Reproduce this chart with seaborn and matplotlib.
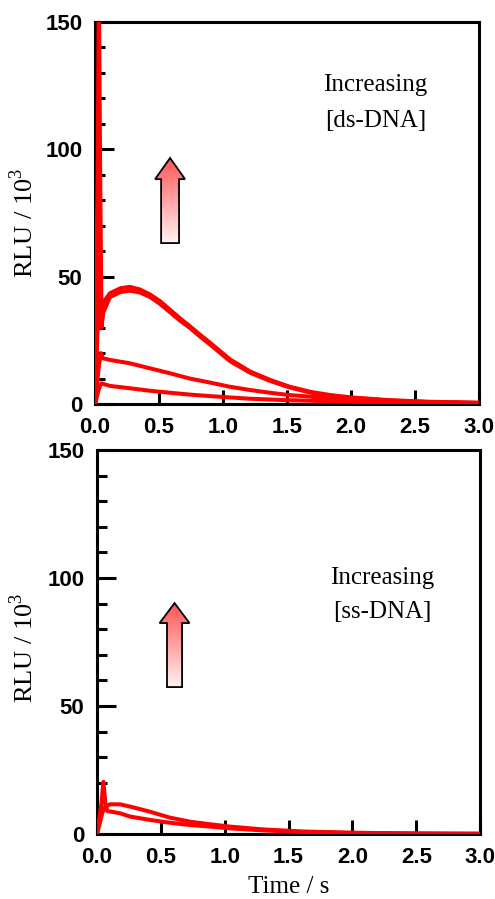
import matplotlib
matplotlib.use("Agg")
import matplotlib.pyplot as plt
import numpy as np
import seaborn as sns
from matplotlib.patches import Polygon
from matplotlib.ticker import MultipleLocator, FormatStrFormatter

# Dados (tempo em s, RLU / 10^3)
# painel superior: ds-DNA
t_ds_a = [0, 0.02, 0.03, 0.04, 0.05, 0.065, 0.117, 0.2, 0.273, 0.35, 0.43, 0.51, 0.586, 0.66,
          0.742, 0.82, 0.9, 1.055, 1.21, 1.37, 1.52, 1.68, 1.84, 2.0, 2.3, 2.6, 3.0]
y_ds_a = [0, 90, 165, 90, 36, 40, 43.5, 45.5, 46, 45, 43, 40.3, 37, 33.8,
          30.5, 27.2, 24, 17.5, 12.8, 9.4, 6.8, 4.8, 3.5, 2.6, 1.5, 0.9, 0.5]
t_ds_b = [0, 0.02, 0.035, 0.05, 0.065, 0.117, 0.2, 0.273, 0.35, 0.43, 0.51, 0.586, 0.66, 0.742,
          0.82, 0.9, 1.055, 1.21, 1.37, 1.52, 1.68, 1.84, 2.0, 2.3, 2.6, 3.0]
y_ds_b = [0, 30, 58, 30, 36, 42, 44, 44.5, 43.8, 42, 39.2, 36, 32.9, 29.8,
          26.5, 23.3, 16.8, 12.3, 9, 6.5, 4.5, 3.2, 2.4, 1.4, 0.8, 0.4]
t_ds_c = [0, 0.03, 0.045, 0.06, 0.117, 0.27, 0.43, 0.59, 0.74, 0.9, 1.05, 1.21, 1.37, 1.52,
          1.68, 1.84, 2.0, 2.5, 3.0]
y_ds_c = [0, 15, 20, 18, 17.3, 16, 14, 12, 10, 8.4, 6.8, 5.5, 4.4, 3.5,
          2.9, 2.2, 1.7, 0.8, 0.4]
t_ds_d = [0, 0.03, 0.05, 0.117, 0.27, 0.43, 0.59, 0.74, 0.9, 1.05, 1.2, 1.5, 2.0, 2.5, 3.0]
y_ds_d = [0, 6, 8.1, 7.1, 6.2, 5.2, 4.4, 3.7, 3.1, 2.6, 2.1, 1.5, 0.9, 0.5, 0.3]

# painel inferior: ss-DNA
t_ss_a = [0, 0.04, 0.06, 0.10, 0.18, 0.26, 0.415, 0.57, 0.73, 0.885, 1.04, 1.3, 1.6, 2.0, 2.5, 3.0]
y_ss_a = [0, 8, 10.5, 11.6, 11.6, 10.7, 8.7, 6.4, 4.8, 3.8, 2.9, 1.8, 1.0, 0.5, 0.2, 0.1]
t_ss_b = [0, 0.035, 0.05, 0.065, 0.08, 0.18, 0.26, 0.415, 0.57, 0.73, 0.885, 1.04, 1.3, 1.6,
          2.0, 2.5, 3.0]
y_ss_b = [0, 12, 20.4, 12, 9, 8.1, 6.8, 5.5, 4.4, 3.5, 2.9, 2.2, 1.4, 0.8, 0.4, 0.2, 0.1]

curvas_ds = [(t_ds_a, y_ds_a), (t_ds_b, y_ds_b), (t_ds_c, y_ds_c), (t_ds_d, y_ds_d)]
curvas_ss = [(t_ss_a, y_ss_a), (t_ss_b, y_ss_b)]

sns.set_style("ticks")
plt.rcParams['font.family'] = ['Liberation Sans', 'DejaVu Sans']
plt.rcParams['text.color'] = 'black'
plt.rcParams['axes.labelcolor'] = 'black'
plt.rcParams['xtick.color'] = 'black'
plt.rcParams['ytick.color'] = 'black'

fig = plt.figure(figsize=(4.95, 8.99), dpi=100)
ax1 = fig.add_axes([0.192, 0.5506, 0.776, 0.4249])
ax2 = fig.add_axes([0.196, 0.0723, 0.774, 0.4271])


def seta(ax, xc, y_base, y_cab, y_topo, meia_cab, meia_haste):
    # seta com gradiente vermelho -> branco
    pts = [(xc - meia_haste, y_base), (xc - meia_haste, y_cab), (xc - meia_cab, y_cab),
           (xc, y_topo), (xc + meia_cab, y_cab), (xc + meia_haste, y_cab),
           (xc + meia_haste, y_base)]
    poly = Polygon(pts, closed=True, facecolor='none', edgecolor='black', lw=1.3, zorder=5)
    ax.add_patch(poly)
    grad = np.linspace(0, 1, 256).reshape(-1, 1)
    cores = np.zeros((256, 1, 3))
    cores[..., 0] = 1.0
    cores[..., 1] = 0.95 - 0.62 * grad
    cores[..., 2] = 0.95 - 0.62 * grad
    im = ax.imshow(cores, extent=[xc - meia_cab, xc + meia_cab, y_base, y_topo],
                   origin='lower', aspect='auto', zorder=4)
    im.set_clip_path(poly)


def formata(ax, curvas):
    for t, y in curvas:
        sns.lineplot(x=t, y=y, ax=ax, color='#ff0000', lw=2.9, estimator=None,
                     sort=False, zorder=3)
    ax.set_xlim(0, 3)
    ax.set_ylim(0, 150)
    ax.xaxis.set_major_locator(MultipleLocator(0.5))
    ax.xaxis.set_major_formatter(FormatStrFormatter('%.1f'))
    ax.yaxis.set_major_locator(MultipleLocator(50))
    ax.yaxis.set_minor_locator(MultipleLocator(10))
    ax.tick_params(axis='y', which='major', direction='in', length=14, width=2.2, pad=9)
    ax.tick_params(axis='y', which='minor', direction='in', length=7, width=2.2)
    ax.tick_params(axis='x', which='major', direction='in', length=10, width=2.2, pad=9)
    for lbl in ax.get_xticklabels() + ax.get_yticklabels():
        lbl.set_fontsize(16)
        lbl.set_fontweight('bold')
    for s in ax.spines.values():
        s.set_linewidth(2.2)
        s.set_color('black')
    ax.set_ylabel('RLU / 10$^{\\mathregular{3}}$', fontsize=19, family='Liberation Serif')
    ax.set_xlabel('')


formata(ax1, curvas_ds)
formata(ax2, curvas_ss)
ax1.yaxis.set_label_coords(-0.15, 0.474)
ax2.yaxis.set_label_coords(-0.155, 0.484)
ax2.set_xlabel('Time / s', fontsize=18, family='Liberation Serif', labelpad=6)

seta(ax1, 0.586, 63.2, 88.3, 96.6, 0.117, 0.07)
seta(ax2, 0.607, 57.4, 82.4, 90.2, 0.117, 0.059)

ax1.text(2.19, 125.2, 'Increasing', ha='center', va='center', fontsize=18,
         family='Liberation Serif')
ax1.text(2.19, 111.1, '[ds-DNA]', ha='center', va='center', fontsize=18,
         family='Liberation Serif')
ax2.text(2.23, 100, 'Increasing', ha='center', va='center', fontsize=18,
         family='Liberation Serif')
ax2.text(2.23, 86.7, '[ss-DNA]', ha='center', va='center', fontsize=18,
         family='Liberation Serif')

plt.savefig('out.png', dpi=100)
plt.close()
